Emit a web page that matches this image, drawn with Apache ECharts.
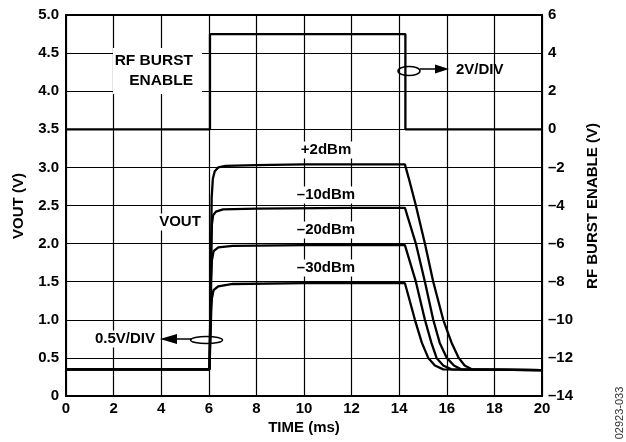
<!DOCTYPE html>
<html><head><meta charset="utf-8">
<script src="https://cdn.jsdelivr.net/npm/echarts@6/dist/echarts.min.js"></script>
<style>html,body{margin:0;padding:0;background:#fff}#c{width:626px;height:442px}</style>
</head><body><div id="c"></div>
<script>
// Tick labels
const xTicks = [0,2,4,6,8,10,12,14,16,18,20];
const leftTicks = [0,0.5,1.0,1.5,2.0,2.5,3.0,3.5,4.0,4.5,5.0];
const rightTicks = [-14,-12,-10,-8,-6,-4,-2,0,2,4,6];

// RF burst enable (right axis, V) : [time ms, V]
const burst = [[0,0],[6.05,0],[6.05,5.0],[14.26,5.0],[14.26,0],[20,0]];

// VOUT traces (left axis, V) : [time ms, V]
const vout_p2 = [[0,0.35],[6.03,0.35],[6.08,1.5],[6.12,2.6],[6.17,2.85],[6.25,2.95],[6.4,3.0],[6.7,3.02],[8,3.03],[10,3.04],[12,3.04],[14.24,3.04],
  [14.4,2.86],[14.7,2.5],[15.08,2.0],[15.43,1.5],[15.85,1.0],[16.2,0.7],[16.5,0.5],[16.75,0.4],[17.05,0.35],[20,0.34]];
const vout_m10 = [[0,0.35],[6.03,0.35],[6.1,1.8],[6.13,2.25],[6.18,2.37],[6.3,2.42],[6.6,2.45],[8,2.46],[12,2.47],[14.24,2.47],
  [14.7,2.0],[15.08,1.5],[15.43,1.0],[15.7,0.7],[16.0,0.5],[16.3,0.4],[16.6,0.35],[20,0.34]];
const vout_m20 = [[0,0.35],[6.03,0.35],[6.1,1.5],[6.13,1.78],[6.2,1.9],[6.4,1.95],[7,1.97],[10,1.98],[14.24,1.98],
  [14.7,1.5],[15.08,1.0],[15.35,0.7],[15.57,0.5],[15.85,0.4],[16.2,0.35],[20,0.34]];
const vout_m30 = [[0,0.35],[6.03,0.35],[6.1,1.1],[6.13,1.28],[6.2,1.39],[6.4,1.44],[7,1.47],[10,1.48],[14.24,1.48],
  [14.4,1.3],[14.66,1.0],[14.95,0.7],[15.22,0.5],[15.5,0.4],[15.85,0.35],[20,0.34]];

const FONT = 'Liberation Sans, Arial, sans-serif';
const chart = echarts.init(document.getElementById('c'), null, {renderer:'canvas'});
const lineSeries = (data, yi) => ({type:'line', data, yAxisIndex:yi, symbol:'none', animation:false,
  lineStyle:{color:'#000', width:2.3}, z:3});
const fmtMinus = v => (v < 0 ? '\u2013' + Math.abs(v) : String(v));

chart.setOption({
  animation:false,
  backgroundColor:'#fff',
  grid:{left:66, right:84, top:15, bottom:46, show:true, borderColor:'#000', borderWidth:2, backgroundColor:'transparent'},
  xAxis:{type:'value', min:xTicks[0], max:xTicks[xTicks.length-1], interval:2,
    axisLine:{show:false}, axisTick:{show:false},
    axisLabel:{color:'#000', fontFamily:FONT, fontWeight:'bold', fontSize:15, margin:5},
    splitLine:{show:true, lineStyle:{color:'#000', width:1.2}}},
  yAxis:[
    {type:'value', min:leftTicks[0], max:leftTicks[leftTicks.length-1], interval:0.5, position:'left',
      axisLine:{show:false}, axisTick:{show:false},
      axisLabel:{color:'#000', fontFamily:FONT, fontWeight:'bold', fontSize:15, margin:7,
        formatter:v => (v === 0 ? '0' : v.toFixed(1))},
      splitLine:{show:true, lineStyle:{color:'#000', width:1.2}}},
    {type:'value', min:rightTicks[0], max:rightTicks[rightTicks.length-1], interval:2, position:'right',
      axisLine:{show:false}, axisTick:{show:false},
      axisLabel:{color:'#000', fontFamily:FONT, fontWeight:'bold', fontSize:15, margin:6, formatter:fmtMinus},
      splitLine:{show:false}}
  ],
  series:[
    lineSeries(burst,1),
    lineSeries(vout_p2,0),
    lineSeries(vout_m10,0),
    lineSeries(vout_m20,0),
    lineSeries(vout_m30,0)
  ],
  graphic:[
    // axis titles
    {type:'text', x:19, y:206, rotation:Math.PI/2, z:10,
      style:{text:'VOUT (V)', font:'bold 15px '+FONT, fill:'#000', textAlign:'center', textVerticalAlign:'middle'}},
    {type:'text', x:593, y:206, rotation:Math.PI/2, z:10,
      style:{text:'RF BURST ENABLE (V)', font:'bold 15px '+FONT, fill:'#000', textAlign:'center', textVerticalAlign:'middle'}},
    {type:'text', x:304, y:428, z:10,
      style:{text:'TIME (ms)', font:'bold 15px '+FONT, fill:'#000', textAlign:'center', textVerticalAlign:'middle'}},
    {type:'text', x:620, y:413, rotation:Math.PI/2, z:10,
      style:{text:'02923-033', font:'11px '+FONT, fill:'#333', textAlign:'center', textVerticalAlign:'middle'}},
    // RF BURST ENABLE annotation
    {type:'rect', shape:{x:113, y:48, width:89, height:46}, style:{fill:'#fff'}, z:5},
    {type:'text', x:193, y:61, z:10,
      style:{text:'RF BURST', font:'bold 15.5px '+FONT, fill:'#000', textAlign:'right', textVerticalAlign:'middle'}},
    {type:'text', x:193, y:81, z:10,
      style:{text:'ENABLE', font:'bold 15.5px '+FONT, fill:'#000', textAlign:'right', textVerticalAlign:'middle'}},
    // 2V/DIV annotation
    {type:'ellipse', shape:{cx:409, cy:71, rx:11, ry:4.5}, style:{fill:'none', stroke:'#000', lineWidth:1.5}, z:10},
    {type:'line', shape:{x1:420, y1:69, x2:440, y2:69}, style:{stroke:'#000', lineWidth:1.5}, z:10},
    {type:'polygon', shape:{points:[[435,64.5],[449,69],[435,73.5]]}, style:{fill:'#000'}, z:10},
    {type:'text', x:456, y:70, z:10,
      style:{text:'2V/DIV', font:'bold 15px '+FONT, fill:'#000', textAlign:'left', textVerticalAlign:'middle'}},
    // VOUT label
    {type:'text', x:180, y:222, z:10,
      style:{text:'VOUT', font:'bold 15px '+FONT, fill:'#000', backgroundColor:'#fff', padding:[1,2],
        textAlign:'center', textVerticalAlign:'middle'}},
    // 0.5V/DIV annotation
    {type:'text', x:157, y:339, z:10,
      style:{text:'0.5V/DIV', font:'bold 15px '+FONT, fill:'#000', backgroundColor:'#fff', padding:[1,2],
        textAlign:'right', textVerticalAlign:'middle'}},
    {type:'polygon', shape:{points:[[160,339],[177,334],[177,344]]}, style:{fill:'#000'}, z:10},
    {type:'line', shape:{x1:175, y1:339, x2:192, y2:339}, style:{stroke:'#000', lineWidth:1.5}, z:10},
    {type:'ellipse', shape:{cx:206.5, cy:340, rx:16, ry:3.6}, style:{fill:'none', stroke:'#000', lineWidth:1.5}, z:10},
    // dBm labels
    {type:'text', x:326, y:150, z:10, style:{text:'+2dBm', font:'bold 15px '+FONT, fill:'#000', backgroundColor:'#fff', padding:[1,2], textAlign:'center', textVerticalAlign:'middle'}},
    {type:'text', x:326, y:195, z:10, style:{text:'\u201310dBm', font:'bold 15px '+FONT, fill:'#000', backgroundColor:'#fff', padding:[1,2], textAlign:'center', textVerticalAlign:'middle'}},
    {type:'text', x:326, y:230, z:10, style:{text:'\u201320dBm', font:'bold 15px '+FONT, fill:'#000', backgroundColor:'#fff', padding:[1,2], textAlign:'center', textVerticalAlign:'middle'}},
    {type:'text', x:326, y:268, z:10, style:{text:'\u201330dBm', font:'bold 15px '+FONT, fill:'#000', backgroundColor:'#fff', padding:[1,2], textAlign:'center', textVerticalAlign:'middle'}}
  ]
});
</script></body></html>
